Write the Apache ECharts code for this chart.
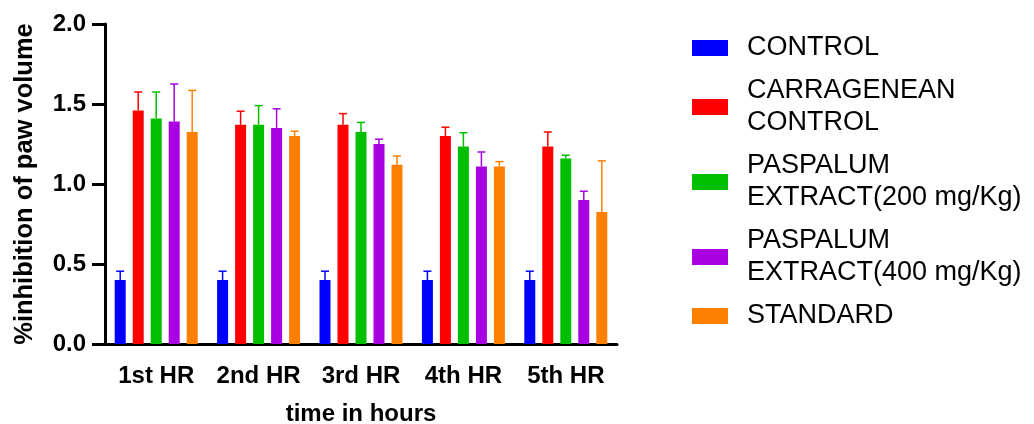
<!DOCTYPE html>
<html>
<head>
<meta charset="utf-8">
<script src="https://cdn.jsdelivr.net/npm/echarts@6/dist/echarts.min.js"></script>
<style>html,body{margin:0;padding:0;background:#fff;}#c{width:1034px;height:424px;}</style>
</head>
<body>
<div id="c"></div>
<script>
var categories = ['1st HR', '2nd HR', '3rd HR', '4th HR', '5th HR'];
var seriesNames = ['CONTROL', 'CARRAGENEAN\nCONTROL', 'PASPALUM\nEXTRACT(200 mg/Kg)', 'PASPALUM\nEXTRACT(400 mg/Kg)', 'STANDARD'];
var controlVals = [0.40, 0.40, 0.40, 0.40, 0.40];
var controlErr = [0.055, 0.055, 0.055, 0.055, 0.055];
var carrVals = [1.46, 1.37, 1.37, 1.30, 1.235];
var carrErr = [0.115, 0.085, 0.07, 0.055, 0.09];
var pas200Vals = [1.41, 1.37, 1.325, 1.235, 1.16];
var pas200Err = [0.165, 0.12, 0.06, 0.085, 0.02];
var pas400Vals = [1.39, 1.35, 1.25, 1.11, 0.90];
var pas400Err = [0.235, 0.12, 0.03, 0.09, 0.055];
var standardVals = [1.325, 1.30, 1.12, 1.11, 0.825];
var standardErr = [0.26, 0.03, 0.055, 0.03, 0.32];
var yTicks = [0, 0.5, 1.0, 1.5, 2.0];

var colors = ['#0000FF', '#FF0000', '#00BF00', '#A800E0', '#FF8000'];
var allVals = [controlVals, carrVals, pas200Vals, pas400Vals, standardVals];
var allErr = [controlErr, carrErr, pas200Err, pas400Err, standardErr];

var BAR_W = 11, BAR_GAP = 7;
var FONT = '"Liberation Sans", Arial, sans-serif';

var series = [];
allVals.forEach(function (vals, i) {
  series.push({
    name: seriesNames[i], type: 'bar', data: vals,
    barWidth: BAR_W, barGap: (BAR_GAP / BAR_W * 100) + '%',
    itemStyle: { color: colors[i] }
  });
});
allVals.forEach(function (vals, i) {
  var off = (i - 2) * (BAR_W + BAR_GAP);
  var data = vals.map(function (v, j) { return [j, v, allErr[i][j]]; });
  series.push({
    type: 'custom', name: seriesNames[i] + '_err', data: data, z: 1,
    renderItem: function (params, api) {
      var x = api.value(0), v = api.value(1), e = api.value(2);
      var p0 = api.coord([x, v]);
      var p1 = api.coord([x, v + e]);
      var cx = p0[0] + off;
      var st = { stroke: colors[i], lineWidth: 1.5 };
      return { type: 'group', children: [
        { type: 'line', shape: { x1: cx, y1: p0[1], x2: cx, y2: p1[1] }, style: st },
        { type: 'line', shape: { x1: cx - 4, y1: p1[1], x2: cx + 4, y2: p1[1] }, style: st }
      ]};
    }
  });
});

var chart = echarts.init(document.getElementById('c'));
chart.setOption({
  animation: false,
  grid: { left: 105, width: 512, top: 24, height: 320, outerBoundsMode: 'none', containLabel: false },
  legend: {
    data: seriesNames, orient: 'vertical', left: 692, top: 32, padding: 0,
    itemWidth: 36, itemHeight: 16, itemGap: 11,
    icon: 'rect',
    textStyle: { fontFamily: FONT, fontSize: 27, color: '#000', lineHeight: 32, padding: [0, 0, 0, 14] }
  },
  xAxis: {
    type: 'category', data: categories,
    name: 'time in hours', nameLocation: 'middle', nameGap: 58,
    nameTextStyle: { fontFamily: FONT, fontSize: 24, fontWeight: 'bold', color: '#000' },
    axisLine: { lineStyle: { color: '#000', width: 3 } },
    axisTick: { alignWithLabel: true, length: 11, lineStyle: { color: '#000', width: 3 } },
    axisLabel: { interval: 0, fontFamily: FONT, fontSize: 24, fontWeight: 'bold', color: '#000', margin: 20 }
  },
  yAxis: {
    type: 'value', min: 0, max: 2, interval: 0.5,
    name: '%inhibition of paw volume', nameLocation: 'middle', nameGap: 67,
    nameTextStyle: { fontFamily: FONT, fontSize: 25.5, fontWeight: 'bold', color: '#000' },
    axisLine: { show: true, lineStyle: { color: '#000', width: 3 } },
    axisTick: { show: true, length: 13, lineStyle: { color: '#000', width: 3 } },
    splitLine: { show: false },
    axisLabel: {
      fontFamily: FONT, fontSize: 24, fontWeight: 'bold', color: '#000', margin: 19,
      formatter: function (v) { return yTicks.indexOf(v) >= 0 ? v.toFixed(1) : ''; }
    }
  },
  series: series
});
</script>
</body>
</html>
